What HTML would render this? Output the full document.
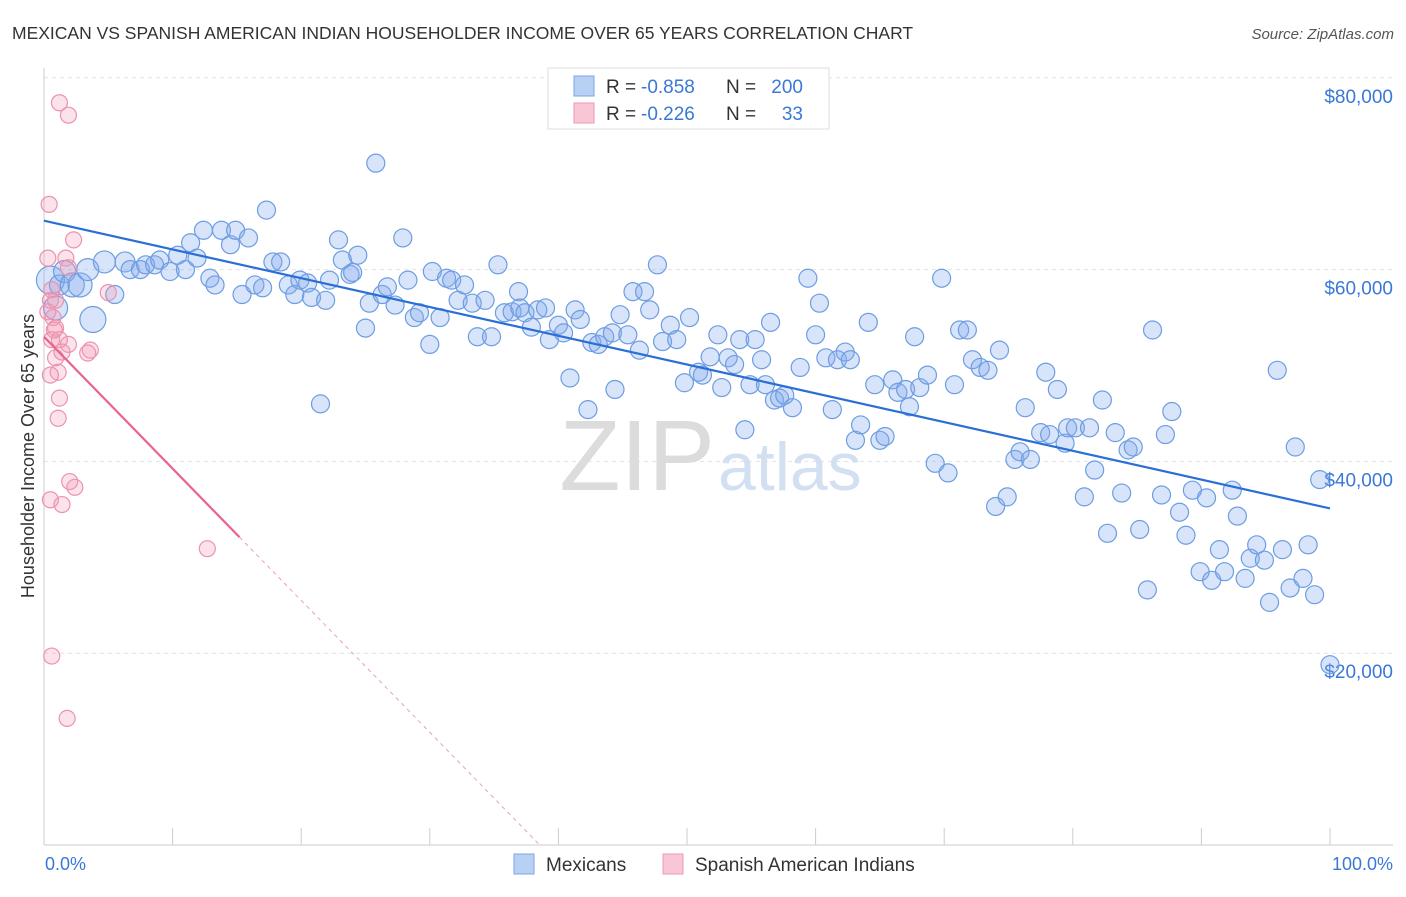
<!DOCTYPE html>
<html><head><meta charset="utf-8"><style>
body{margin:0;background:#fff;font-family:"Liberation Sans",sans-serif}
svg text{font-family:"Liberation Sans",sans-serif}
</style></head><body>
<svg id="chart" width="1406" height="892" xmlns="http://www.w3.org/2000/svg">
<text x="12" y="39" font-size="17.5" fill="#333">MEXICAN VS SPANISH AMERICAN INDIAN HOUSEHOLDER INCOME OVER 65 YEARS CORRELATION CHART</text>
<text x="1394" y="39" font-size="15" fill="#555" font-style="italic" text-anchor="end">Source: ZipAtlas.com</text>
<g id="grid"></g>
<text x="715" y="490" font-size="100" fill="#dcdcdc" text-anchor="end" font-family="Liberation Serif">ZIP</text>
<text x="718" y="490" font-size="68" fill="#d3e0f2">atlas</text>
<g id="points"></g>
<g id="lines"></g>
<text transform="translate(34,456) rotate(-90)" font-size="18" fill="#333" text-anchor="middle">Householder Income Over 65 years</text>
<text x="45" y="870" font-size="18" fill="#3a78d8">0.0%</text>
<text x="1393" y="870" font-size="18" fill="#3a78d8" text-anchor="end">100.0%</text>
<g>
<rect x="548" y="68" width="281" height="61" fill="#fff" stroke="#ddd"/>
<rect x="574" y="76" width="20" height="20" fill="#b8d0f4" stroke="#7aa4e4"/>
<rect x="574" y="103" width="20" height="20" fill="#f8c6d4" stroke="#ee98b2"/>
<text x="606" y="93" font-size="19" fill="#333">R =</text>
<text x="641" y="93" font-size="19" fill="#3a78d8">-0.858</text>
<text x="726" y="93" font-size="19" fill="#333">N =</text>
<text x="803" y="93" font-size="19" fill="#3a78d8" text-anchor="end">200</text>
<text x="606" y="120" font-size="19" fill="#333">R =</text>
<text x="641" y="120" font-size="19" fill="#3a78d8">-0.226</text>
<text x="726" y="120" font-size="19" fill="#333">N =</text>
<text x="803" y="120" font-size="19" fill="#3a78d8" text-anchor="end">33</text>
</g>
<g>
<rect x="514" y="854" width="20" height="20" fill="#b8d0f4" stroke="#7aa4e4"/>
<text x="546" y="871" font-size="19" fill="#333">Mexicans</text>
<rect x="663" y="854" width="20" height="20" fill="#f8c6d4" stroke="#ee98b2"/>
<text x="695" y="871" font-size="19" fill="#333">Spanish American Indians</text>
</g>
</svg>
<script>
const blueX=[0.5,0.9,1.2,1.6,2.2,2.8,3.4,3.8,4.7,5.5,6.3,6.7,7.5,7.9,8.6,9.0,9.8,10.4,11.0,11.4,11.9,12.4,12.9,13.3,13.8,14.5,14.9,15.4,15.9,16.4,17.0,17.3,17.8,18.4,19.0,19.5,19.9,20.5,20.8,21.5,21.9,22.2,22.9,23.2,23.8,24.0,24.4,25.0,25.3,25.8,26.3,26.7,27.3,27.9,28.3,28.8,29.2,30.0,30.2,30.8,31.3,31.7,32.2,32.7,33.3,33.7,34.3,34.8,35.3,35.8,36.4,36.9,37.0,37.4,37.9,38.4,39.0,39.3,40.0,40.4,40.9,41.3,41.7,42.3,42.6,43.1,43.6,44.2,44.4,44.8,45.4,45.8,46.3,46.7,47.1,47.7,48.1,48.7,49.2,49.8,50.2,50.9,51.2,51.8,52.4,52.7,53.2,53.7,54.1,54.5,54.9,55.3,55.8,56.1,56.5,56.8,57.2,57.6,58.2,58.8,59.4,60.0,60.3,60.8,61.3,61.7,62.3,62.7,63.1,63.5,64.1,64.6,65.0,65.4,66.0,66.4,67.0,67.3,67.7,68.1,68.7,69.3,69.8,70.3,70.8,71.2,71.8,72.2,72.8,73.4,74.0,74.3,74.9,75.5,75.9,76.3,76.7,77.5,77.9,78.2,78.8,79.4,79.6,80.2,80.9,81.3,81.7,82.3,82.7,83.3,83.8,84.3,84.7,85.2,85.8,86.2,86.9,87.2,87.7,88.3,88.8,89.3,89.9,90.4,90.8,91.4,91.8,92.4,92.8,93.4,93.8,94.3,94.9,95.3,95.9,96.3,96.9,97.3,97.9,98.3,98.8,99.2,100.0];
const blueY=[58.9,56.0,58.4,59.8,58.4,58.4,60.0,54.8,60.8,57.4,60.8,60.0,60.0,60.5,60.5,61.0,59.8,61.5,60.0,62.8,61.2,64.1,59.1,58.4,64.1,62.6,64.1,57.4,63.3,58.4,58.1,66.2,60.8,60.8,58.4,57.4,58.9,58.6,57.1,46.0,56.8,58.9,63.1,61.0,59.5,59.7,61.5,53.9,56.5,71.1,57.4,58.2,56.3,63.3,58.9,55.0,55.5,52.2,59.8,55.0,59.1,58.9,56.8,58.4,56.5,53.0,56.8,53.0,60.5,55.5,55.6,57.7,56.0,55.5,54.0,55.8,56.0,52.7,54.2,53.4,48.7,55.8,54.8,45.4,52.4,52.2,53.0,53.4,47.5,55.3,53.2,57.7,51.6,57.7,55.8,60.5,52.5,54.2,52.7,48.2,55.0,49.3,49.0,50.9,53.2,47.7,50.8,50.1,52.7,43.3,48.0,52.7,50.6,48.0,54.5,46.4,46.6,46.9,45.6,49.8,59.1,53.2,56.5,50.8,45.4,50.6,51.4,50.6,42.2,43.8,54.5,48.0,42.2,42.6,48.5,47.2,47.5,45.7,53.0,47.7,49.0,39.8,59.1,38.8,48.0,53.7,53.7,50.6,49.8,49.5,35.3,51.6,36.3,40.2,41.0,45.6,40.2,43.0,49.3,42.8,47.5,41.9,43.5,43.5,36.3,43.5,39.1,46.4,32.5,43.0,36.7,41.2,41.5,32.9,26.6,53.7,36.5,42.8,45.2,34.7,32.3,37.0,28.5,36.2,27.6,30.8,28.5,37.0,34.3,27.8,29.9,31.3,29.7,25.3,49.5,30.8,26.8,41.5,27.8,31.3,26.1,38.1,18.8];
const blueSize=[14,12,10,11,12,12,11,13,11,9,10];
const pinkX=[1.2,1.9,0.4,2.3,1.7,0.3,1.9,0.6,0.9,5.0,0.5,0.7,0.9,0.6,1.2,1.9,3.6,3.4,0.9,1.1,0.5,1.2,1.1,2.0,2.4,0.5,1.4,12.7,0.6,1.8,0.3,0.8,1.4];
const pinkY=[77.4,76.1,66.8,63.1,61.2,61.2,60.2,57.9,56.8,57.6,56.8,55.0,53.9,52.7,52.7,52.2,51.6,51.3,50.8,49.3,49.0,46.6,44.5,37.9,37.3,36.0,35.5,30.9,19.7,13.2,55.6,53.7,51.4];
const blueTrend=[65.1,35.1];
const pinkTrend=[53.0,-1.375];
const pinkSolidEnd=15.2;
const yTicks=[20000,40000,60000,80000];
const yTickLabels=["$20,000","$40,000","$60,000","$80,000"];
const xTicks=[0,10,20,30,40,50,60,70,80,90,100];

const NS="http://www.w3.org/2000/svg";
const X=v=>44+v*12.86;
const Y=k=>845-k*9.59;
function mk(t,a,p){const e=document.createElementNS(NS,t);for(const k in a)e.setAttribute(k,a[k]);p.appendChild(e);return e;}
const grid=document.getElementById('grid');
yTicks.forEach((t,i)=>{
 const y=Y(t/1000);
 const l=mk('line',{x1:44,x2:1393,y1:y,y2:y,stroke:'#e2e2e2','stroke-dasharray':'4,4'},grid);
 
 
 const tx=mk('text',{x:1393,y:y+25,'font-size':19,fill:'#3a78d8','text-anchor':'end'},grid);
 tx.textContent=yTickLabels[i];
 
 
});
const ax=mk('line',{x1:44,x2:1393,y1:845,y2:845,stroke:'#ccc'},grid);


const ay=mk('line',{x1:44,x2:44,y1:68,y2:845,stroke:'#ccc'},grid);


xTicks.forEach(t=>{
 const l=mk('line',{x1:X(t),x2:X(t),y1:828,y2:845,stroke:'#ccc'},grid);
 
 
});
const pts=document.getElementById('points');
blueX.forEach((v,i)=>{
 const c=mk('circle',{cx:X(v),cy:Y(blueY[i]),r:blueSize[i]||9,fill:'rgba(130,170,235,0.32)',stroke:'#6d9de2','stroke-width':1.2},pts);
 
 
});
pinkX.forEach((v,i)=>{
 const c=mk('circle',{cx:X(v),cy:Y(pinkY[i]),r:8,fill:'rgba(245,150,180,0.28)',stroke:'#eb93af','stroke-width':1.2},pts);
 
 
});
const ln=document.getElementById('lines');
const bl=mk('line',{x1:X(0),y1:Y(blueTrend[0]),x2:X(100),y2:Y(blueTrend[1]),stroke:'#2a6fd6','stroke-width':2.2},ln);


const pf=x=>pinkTrend[0]+pinkTrend[1]*x;
const zeroX=-pinkTrend[0]/pinkTrend[1];
const pl=mk('line',{x1:X(0),y1:Y(pf(0)),x2:X(pinkSolidEnd),y2:Y(pf(pinkSolidEnd)),stroke:'#e8638f','stroke-width':2.2},ln);


const pd=mk('line',{x1:X(pinkSolidEnd),y1:Y(pf(pinkSolidEnd)),x2:X(zeroX),y2:Y(0),stroke:'#eba0b8','stroke-width':1,'stroke-dasharray':'4,4'},ln);


</script>
</body></html>
